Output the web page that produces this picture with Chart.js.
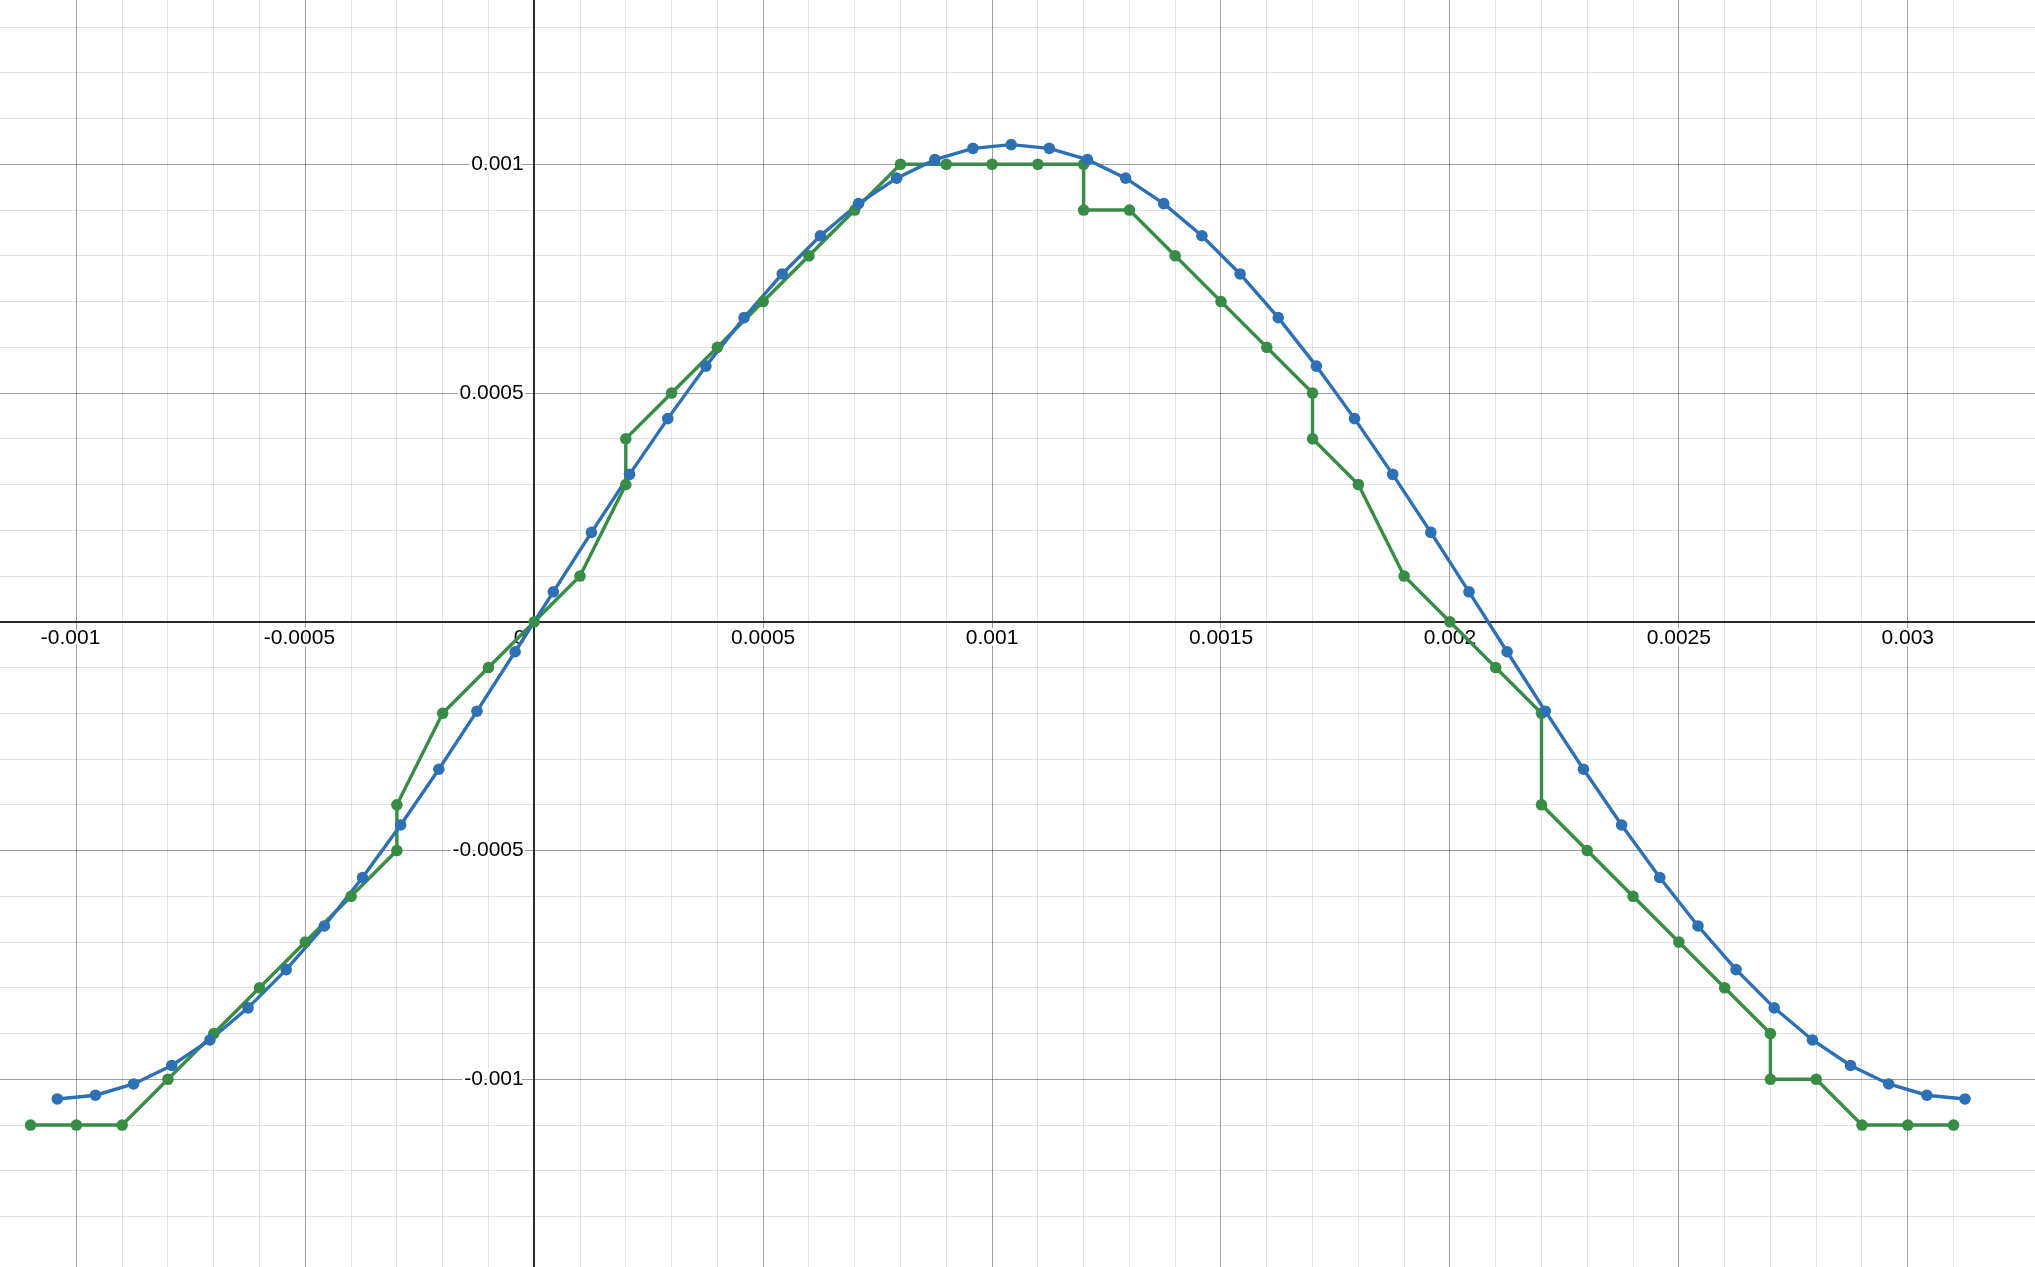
<!DOCTYPE html>
<html>
<head>
<meta charset="utf-8">
<title>Sampled sine and quantized copy</title>
<script src="https://cdn.jsdelivr.net/npm/chart.js@4.4.1/dist/chart.umd.min.js"></script>
<style>
  html, body { margin: 0; padding: 0; background: #fff; }
  #wrap { width: 2035px; height: 1267px; position: relative; }
</style>
</head>
<body>
<div id="wrap"><canvas id="graph"></canvas></div>
<script>
'use strict';

// blue samples
var blueX = [
  -0.0010417, -0.0009583, -0.0008750, -0.0007917, -0.0007083, -0.0006250, -0.0005417,
  -0.0004583, -0.0003750, -0.0002917, -0.0002083, -0.0001250, -0.0000417,
  0.0000417, 0.0001250, 0.0002083, 0.0002917, 0.0003750, 0.0004583, 0.0005417,
  0.0006250, 0.0007083, 0.0007917, 0.0008750, 0.0009583, 0.0010417, 0.0011250,
  0.0012083, 0.0012917, 0.0013750, 0.0014583, 0.0015417, 0.0016250, 0.0017083,
  0.0017917, 0.0018750, 0.0019583, 0.0020417, 0.0021250, 0.0022083, 0.0022917,
  0.0023750, 0.0024583, 0.0025417, 0.0026250, 0.0027083, 0.0027917, 0.0028750,
  0.0029583, 0.0030417, 0.0031250
];
var blueY = [
  -0.0010430, -0.0010348, -0.0010102, -0.0009698, -0.0009140, -0.0008438, -0.0007603,
  -0.0006648, -0.0005589, -0.0004441, -0.0003223, -0.0001954, -0.0000655,
  0.0000655, 0.0001954, 0.0003223, 0.0004441, 0.0005589, 0.0006648, 0.0007603,
  0.0008438, 0.0009140, 0.0009698, 0.0010102, 0.0010348, 0.0010430, 0.0010348,
  0.0010102, 0.0009698, 0.0009140, 0.0008438, 0.0007603, 0.0006648, 0.0005589,
  0.0004441, 0.0003223, 0.0001954, 0.0000655, -0.0000655, -0.0001954, -0.0003223,
  -0.0004441, -0.0005589, -0.0006648, -0.0007603, -0.0008438, -0.0009140, -0.0009698,
  -0.0010102, -0.0010348, -0.0010430
];

// green samples (repeated x where the value jumps)
var greenX = [
  -0.0011, -0.0010, -0.0009, -0.0008, -0.0007, -0.0006, -0.0005, -0.0004, -0.0003,
  -0.0003, -0.0002, -0.0001, 0, 0.0001, 0.0002, 0.0002, 0.0003, 0.0004, 0.0005,
  0.0006, 0.0007, 0.0008, 0.0009, 0.0010, 0.0011, 0.0012, 0.0012, 0.0013, 0.0014,
  0.0015, 0.0016, 0.0017, 0.0017, 0.0018, 0.0019, 0.0020, 0.0021, 0.0022, 0.0022,
  0.0023, 0.0024, 0.0025, 0.0026, 0.0027, 0.0027, 0.0028, 0.0029, 0.0030, 0.0031
];
var greenY = [
  -0.0011, -0.0011, -0.0011, -0.0010, -0.0009, -0.0008, -0.0007, -0.0006, -0.0005,
  -0.0004, -0.0002, -0.0001, 0, 0.0001, 0.0003, 0.0004, 0.0005, 0.0006, 0.0007,
  0.0008, 0.0009, 0.0010, 0.0010, 0.0010, 0.0010, 0.0010, 0.0009, 0.0009, 0.0008,
  0.0007, 0.0006, 0.0005, 0.0004, 0.0003, 0.0001, 0, -0.0001, -0.0002, -0.0004,
  -0.0005, -0.0006, -0.0007, -0.0008, -0.0009, -0.0010, -0.0010, -0.0011, -0.0011, -0.0011
];

// view window and grid steps
var xRange = [-0.0011668, 0.0032779];
var yRange = [-0.0014103, 0.0013591];
var minorStep = 0.0001;
var majorEvery = 5;

var BLUE = '#2d70b3';
var GREEN = '#388c46';

function toPoints(xs, ys) {
  return xs.map(function (x, i) { return { x: x, y: ys[i] }; });
}

function stepIndex(v) {
  var n = Math.round(v / minorStep);
  return Math.abs(v - n * minorStep) < 1e-10 ? n : null;
}

function gridColor(c) {
  var n = stepIndex(c.tick.value);
  if (n === null || n === 0) return 'rgba(0,0,0,0)';
  return n % majorEvery === 0 ? 'rgba(0,0,0,0.38)' : 'rgba(0,0,0,0.11)';
}

function label(axis) {
  return function (v) {
    var n = stepIndex(v);
    if (n === null) return null;
    if (n % majorEvery !== 0) return '';
    if (n === 0) return axis === 'x' ? '0     ' : '';
    var s = String(n / 10000);
    if (axis === 'y') return s + '\u2002';
    return n < 0 ? s + '  ' : s;
  };
}

function squash(s) {
  if (s.isHorizontal()) s.height = 0; else s.width = 0;
  s.paddingLeft = s.paddingRight = s.paddingTop = s.paddingBottom = 0;
}

function axis(id, range, pos, pad) {
  return {
    type: 'linear',
    min: range[0],
    max: range[1],
    position: pos,
    afterFit: squash,
    grid: { color: gridColor, lineWidth: 1, drawTicks: false },
    border: { display: true, color: '#2a2a2a', width: 2 },
    ticks: {
      stepSize: minorStep,
      autoSkip: false,
      maxRotation: 0,
      minRotation: 0,
      padding: pad,
      color: '#000',
      font: { family: 'Liberation Sans, Arial, sans-serif', size: 21 },
      textStrokeColor: '#fff',
      textStrokeWidth: 5,
      callback: label(id)
    }
  };
}

var linePart = { showLine: true, pointRadius: 0, borderWidth: 3.4, tension: 0 };
var dotPart = { showLine: false, pointRadius: 5.8, pointBorderWidth: 0, pointHoverRadius: 5.8 };

var blue = toPoints(blueX, blueY);
var green = toPoints(greenX, greenY);

new Chart(document.getElementById('graph'), {
  type: 'scatter',
  data: {
    datasets: [
      Object.assign({ data: blue, order: 0, pointBackgroundColor: BLUE, backgroundColor: BLUE }, dotPart),
      Object.assign({ data: green, order: 1, pointBackgroundColor: GREEN, backgroundColor: GREEN }, dotPart),
      Object.assign({ data: blue, order: 2, borderColor: BLUE }, linePart),
      Object.assign({ data: green, order: 3, borderColor: GREEN }, linePart)
    ]
  },
  options: {
    responsive: true,
    maintainAspectRatio: false,
    animation: false,
    layout: { padding: 0, autoPadding: false },
    plugins: { legend: { display: false }, tooltip: { enabled: false } },
    scales: {
      x: axis('x', xRange, { y: 0 }, 4),
      y: axis('y', yRange, { x: 0 }, 10)
    }
  }
});
</script>
</body>
</html>
